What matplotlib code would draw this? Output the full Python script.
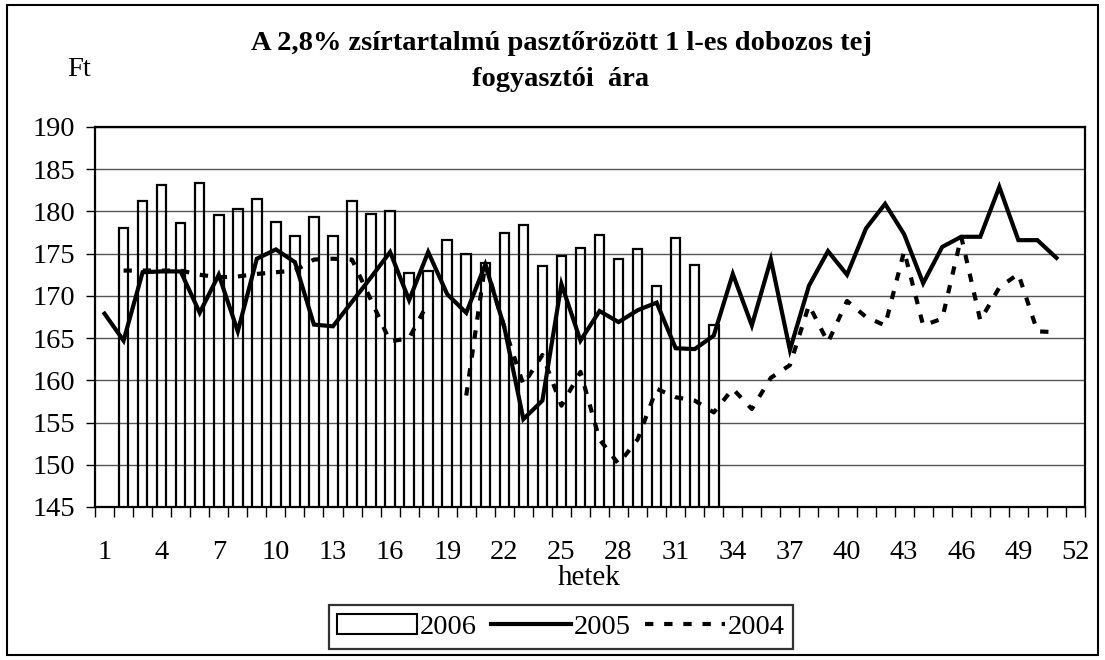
import numpy as np
import matplotlib
matplotlib.use("Agg")
import matplotlib.pyplot as plt
from matplotlib.patches import Patch, Rectangle
from matplotlib.lines import Line2D

nan = np.nan

# heti fogyasztói árak (Ft), 1..51. hét
weeks = list(range(1, 52))
price_2006 = [nan, 178.0, 181.2, 183.1, 178.6, 183.4, 179.6, 180.3, 181.5, 178.8,
              177.1, 179.4, 177.1, 181.2, 179.7, 180.0, 172.7, 172.9, 176.6, 175.0,
              173.9, 177.5, 178.4, 173.5, 174.7, 175.7, 177.2, 174.4, 175.6, 171.2,
              176.9, 173.6, 166.6]
price_2005 = [167.9, 164.7, 172.8, 172.9, 172.9, 168.0, 172.5, 165.8, 174.4, 175.5,
              174.0, 166.6, 166.4, 169.3, 172.2, 175.2, 169.5, 175.2, 170.2, 168.0,
              173.7, 166.3, 155.4, 157.6, 171.4, 164.7, 168.2, 166.9, 168.3, 169.2,
              163.8, 163.7, 165.3, 172.6, 166.5, 174.3, 163.6, 171.2, 175.3, 172.5,
              178.0, 180.9, 177.3, 171.5, 175.8, 177.0, 177.0, 182.9, 176.6, 176.6,
              174.5]
price_2004 = [nan, 173.0, 173.0, 173.0, 173.0, 172.5, 172.2, 172.3, 172.6, 172.8,
              173.0, 174.3, 174.4, 174.3, 169.5, 164.6, 165.0, 169.2, nan, 158.2,
              173.8, 166.3, 159.5, 163.0, 157.0, 161.0, 153.0, 150.1, 153.0, 159.0,
              158.0, 157.6, 156.2, 159.0, 156.6, 160.3, 161.8, 168.9, 164.5, 169.4,
              167.5, 166.5, 175.3, 166.5, 167.3, 177.0, 167.1, 171.0, 172.6, 165.8,
              165.7]
tick_weeks = list(range(1, 53, 3))

plt.rcParams['font.family'] = ['Liberation Serif', 'DejaVu Serif']

W, H = 1105, 660
fig = plt.figure(figsize=(W / 100, H / 100), dpi=100)
ax = fig.add_axes([95 / W, 1 - 507 / H, 990 / W, 380 / H])

lw = 3.0
dash = (0, (2.0, 2.6))
ax.bar(weeks[:len(price_2006)], price_2006, width=0.5, facecolor='none',
       edgecolor='black', linewidth=1.6, zorder=3)
ax.plot(weeks, price_2005, color='black', lw=lw, zorder=4,
        solid_joinstyle='miter')
ax.plot(weeks, price_2004, color='black', lw=lw, linestyle=dash, zorder=4,
        dash_capstyle='butt')

ax.set_xlim(0.5, 52.5)
ax.set_ylim(145, 190)
ax.set_yticks(np.arange(145, 191, 5))
ax.yaxis.grid(True, color='#555555', lw=1.0, zorder=1)
ax.set_axisbelow(True)

ax.set_xticks(tick_weeks)
ax.set_xticks(np.arange(0.5, 53, 1), minor=True)
ax.tick_params(axis='x', which='major', length=0, pad=24, labelsize=20.5)
ax.tick_params(axis='x', which='minor', length=7, width=1.0, direction='out')
ax.tick_params(axis='y', length=6.5, width=1.0, pad=8, labelsize=20.5)
for s in ax.spines.values():
    s.set_linewidth(1.6)

fig.text(561 / W, 1 - 44 / H, 'A 2,8% zsírtartalmú pasztőrözött 1 l-es dobozos tej',
         ha='center', va='center', fontsize=20.5, fontweight='bold')
fig.text(561 / W, 1 - 79 / H, 'fogyasztói  ára',
         ha='center', va='center', fontsize=20.5, fontweight='bold')
fig.text(79 / W, 1 - 70 / H, 'Ft', ha='center', va='center', fontsize=20.5)
fig.text(589 / W, 1 - 578 / H, 'hetek', ha='center', va='center', fontsize=21)

handles = [Patch(facecolor='white', edgecolor='black', lw=1.5),
           Line2D([], [], color='black', lw=lw),
           Line2D([], [], color='black', lw=lw, linestyle=dash)]
leg = fig.legend(handles, ['2006', '2005', '2004'], loc='center',
                 bbox_to_anchor=(561 / W, 1 - 627 / H), ncol=3, fontsize=20.5,
                 frameon=True, fancybox=False, edgecolor='black',
                 handlelength=2.8, handletextpad=0.1, columnspacing=0.5,
                 borderpad=0.3)
leg.get_frame().set_linewidth(1.6)

fig.add_artist(Rectangle((7 / W, 5 / H), 1091 / W, 650 / H, transform=fig.transFigure,
                         fill=False, lw=1.5, edgecolor='black'))

fig.savefig('out.png', dpi=100)
